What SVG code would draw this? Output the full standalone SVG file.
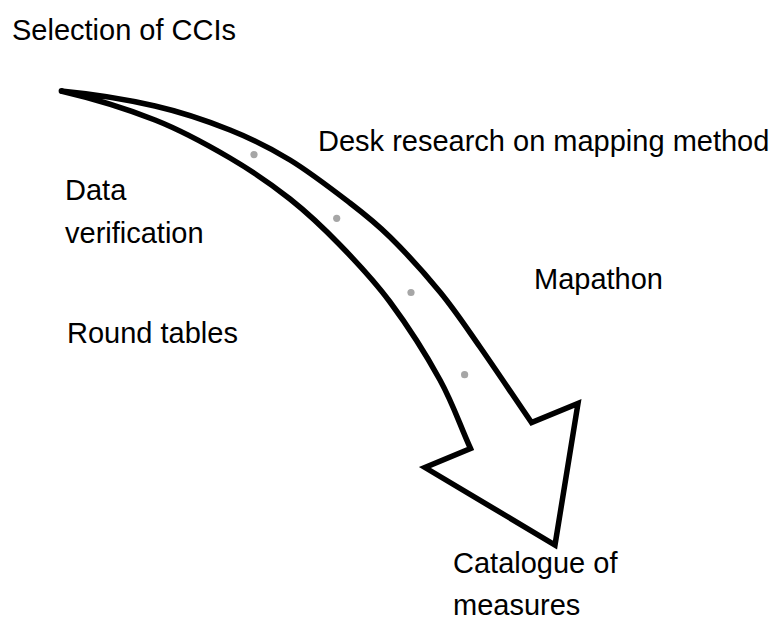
<svg xmlns="http://www.w3.org/2000/svg" width="773" height="621" viewBox="0 0 773 621">
<style>
text{font-family:"Liberation Sans",Arial,sans-serif;font-size:29px;fill:#000}
.arrow{fill:#fff;stroke:#000;stroke-width:5.5;stroke-linejoin:miter;stroke-miterlimit:4}
.dot{fill:#a6a6a6}
</style>
<rect width="773" height="621" fill="#fff"/>
<g id="arrow">
<path class="arrow" d="M61,91 C92.3,94 126.8,99.5 155,106 C183.2,112.5 207.5,121 230,130 C252.5,139 270,147.8 290,160 C310,172.2 333.3,190.2 350,203 C366.7,215.8 375,222.2 390,237 C405,251.8 425,273.7 440,292 C455,310.3 464.8,325.3 480,347 C495.2,368.7 514,397 531.5,422.5 L578,403.5 L555,545 L425,467.5 L470.5,448.5 C459.7,424.7 453.3,404.3 440,380 C426.7,355.7 406.7,324.5 390,302 C373.3,279.5 356.7,262.2 340,245 C323.3,227.8 308.3,213.5 290,199 C271.7,184.5 252.5,171.2 230,158 C207.5,144.8 183.2,131.2 155,120 C126.8,108.8 92.3,98.3 61,91 Z"/>
<circle cx="61.5" cy="91" r="2.9" fill="#000"/>
<circle class="dot" cx="254" cy="154.6" r="3.6"/>
<circle class="dot" cx="336.7" cy="218.3" r="3.6"/>
<circle class="dot" cx="411" cy="292.5" r="3.6"/>
<circle class="dot" cx="464.6" cy="374.7" r="3.6"/>
</g>
<g id="labels">
<text x="12" y="40">Selection of CCIs</text>
<text x="318" y="151">Desk research on mapping method</text>
<text x="65" y="200">Data</text>
<text x="65" y="243">verification</text>
<text x="534" y="289">Mapathon</text>
<text x="67" y="343">Round tables</text>
<text x="453" y="573">Catalogue of</text>
<text x="453" y="615">measures</text>
</g>
</svg>
